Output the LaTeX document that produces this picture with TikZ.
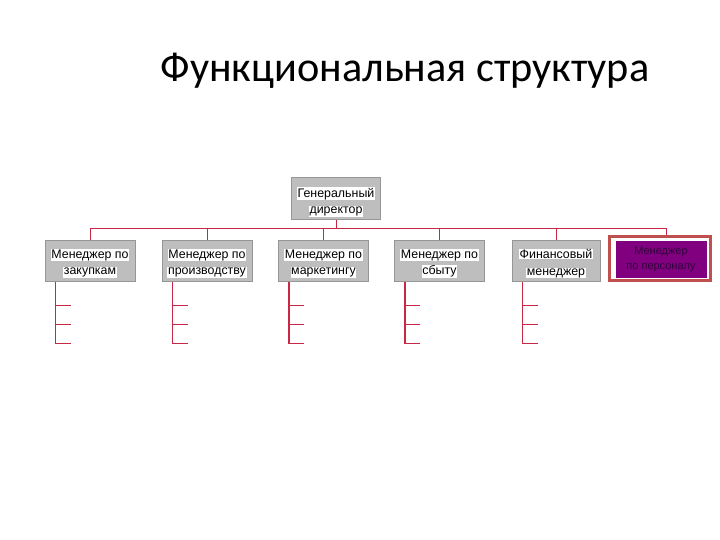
\documentclass[tikz,border=0pt]{standalone}
\usepackage{fontspec}
\setmainfont{Liberation Sans}
\newfontfamily\titlefont{Carlito}
\definecolor{boxgray}{RGB}{190,190,190}
\definecolor{boxedge}{RGB}{150,150,150}
\definecolor{linered}{RGB}{200,40,70}
\definecolor{framered}{RGB}{192,80,77}
\definecolor{purplefill}{RGB}{128,0,128}
\definecolor{purpletext}{RGB}{50,0,60}
\newcommand{\wl}[1]{{\setlength{\fboxsep}{0.6pt}\colorbox{white}{#1}}}
\tikzset{
  box/.style={draw=boxedge, line width=1pt, fill=boxgray, minimum width=90pt, minimum height=41pt,
    inner sep=0pt},
  boxtext/.style={inner sep=0pt, align=center, font=\fontsize{12.4}{16.5}\selectfont},
  conn/.style={draw=linered, line width=0.8pt},
  sub/.style={draw=linered, line width=1.1pt},
}
\begin{document}
\begin{tikzpicture}[x=1pt,y=-1pt]
\useasboundingbox (0,0) rectangle (720,540);
\node[anchor=base, font=\titlefont\fontsize{42.3}{48}\selectfont] (title) at (405,82) {Функциональная структура};

\node[box, minimum width=89pt, minimum height=42pt] (gd) at (336,199) {};
\node[boxtext] (gdt) at (336,202) {\wl{Генеральный}\\\wl{директор}};

\node[box] (b1) at (90,260.5) {};
\node[box] (b2) at (207,260.5) {};
\node[box] (b3) at (323.5,260.5) {};
\node[box] (b4) at (439.5,260.5) {};
\node[box, minimum width=88pt] (b5) at (556,260.5) {};
\node[boxtext] (t1) at (90,263.5) {\wl{Менеджер по}\\\wl{закупкам}};
\node[boxtext] (t2) at (207,263.5) {\wl{Менеджер по}\\\wl{производству}};
\node[boxtext] (t3) at (323.5,263.5) {\wl{Менеджер по}\\\wl{маркетингу}};
\node[boxtext] (t4) at (439.5,263.5) {\wl{Менеджер по}\\\wl{сбыту}};
\node[boxtext] (t5) at (556,263.5) {\wl{Финансовый}\\\wl{менеджер}};

\node[draw=framered, line width=3.5pt, fill=white, minimum width=101pt, minimum height=44pt, inner sep=0pt] (pf) at (660,258.5) {};
\node[fill=purplefill, minimum width=91pt, minimum height=37pt, inner sep=0pt, align=center,
  text=purpletext, font=\fontsize{11}{15}\selectfont] (p) at (661,259) {Менеджер\\по персоналу};

\coordinate (busL) at (90,228);
\coordinate (busR) at (666,228);
\draw[conn] (gd.south) -- (gd.south |- busL);
\draw[conn] (busL) -- (busR);
\foreach \b in {b1,b2,b3,b4,b5}{
  \draw[conn] (\b.north) -- (\b.north |- busL);
}
\draw[conn] (busR) -- (busR |- pf.north);

\foreach \b in {b1,b2,b3,b4,b5}{
  \coordinate (\b top) at ([xshift=11pt]\b.south west);
  \coordinate (\b end) at ([xshift=11pt, yshift=-62pt]\b.south west);
  \draw[sub] (\b top) -- (\b end);
  \foreach \d in {24,43,62}{
    \draw[sub] ([yshift=-\d pt]\b top) -- ++(15,0);
  }
}
\end{tikzpicture}
\end{document}
